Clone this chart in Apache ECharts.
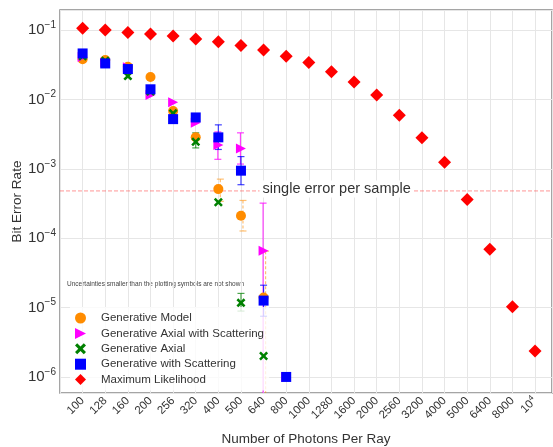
<!DOCTYPE html>
<html lang="en">
<head>
    <meta charset="UTF-8">
    <title>Bit Error Rate vs Photons Per Ray</title>
    <script src="https://cdn.jsdelivr.net/npm/echarts@6.0.0/dist/echarts.min.js"></script>
    <style>
        body, html {
            margin: 0;
            padding: 0;
            width: 100%;
            height: 100%;
            background-color: #fff;
        }
        #chart {
            width: 553px;
            height: 447px;
        }
    </style>
</head>
<body>
    <div id="chart"></div>

    <script>
        // x categories (photons per ray)
        var xLabels = ['100', '128', '160', '200', '256', '320', '400', '500', '640', '800',
            '1000', '1280', '1600', '2000', '2560', '3200', '4000', '5000', '6400', '8000', '10^4'];

        // bit error rates, one value per category (null = not plotted)
        var genModel = [0.038, 0.037, 0.0296, 0.021, 0.0068, 0.00285, 5.1e-4, 2.1e-4, 1.4e-5];
        var genAxialScatter = [0.041, 0.034, 0.029, 0.0116, 0.0091, 0.0046, 0.0022, 0.00197, 6.6e-5, 1.0e-6];
        var genAxial = [0.042, 0.036, 0.0217, 0.013, 0.0063, 0.00245, 3.3e-4, 1.17e-5, 2.0e-6];
        var genScatter = [0.046, 0.033, 0.0274, 0.014, 0.0052, 0.0055, 0.00284, 9.4e-4, 1.26e-5, 1.0e-6];
        var maxLikelihood = [0.106, 0.100, 0.092, 0.0876, 0.082, 0.074, 0.068, 0.060, 0.0515, 0.042,
            0.034, 0.025, 0.0178, 0.0116, 0.0059, 0.0028, 0.00124, 3.6e-4, 6.9e-5, 1.03e-5, 2.37e-6];

        var yMin = 5.87e-7;
        var yMax = 0.1945;

        // error bars: [category index, low, high]; low = 0 means the bar runs down to zero
        var errGenModel = [[6, 3.4e-4, 7.1e-4], [7, 1.27e-4, 3.5e-4], [8, 0, 6.5e-5]];
        var errGenAxialScatter = [[6, 1.37e-3, 3.4e-3], [7, 1.17e-3, 3.3e-3], [8, 0, 3.2e-4]];
        var errGenAxial = [[5, 2.0e-3, 3.3e-3], [7, 8.9e-6, 1.6e-5]];
        var errGenScatter = [[6, 1.9e-3, 4.3e-3], [7, 5.9e-4, 1.5e-3], [8, 7.5e-6, 2.1e-5]];

        var singleErrorLevel = 4.8e-4;

        var chart = echarts.init(document.getElementById('chart'));

        var xMarker = 'path://M2,0 L5,3 L8,0 L10,2 L7,5 L10,8 L8,10 L5,7 L2,10 L0,8 L3,5 L0,2 Z';
        var triRight = 'path://M0,0 L10,5 L0,10 Z';

        function toPoints(arr) {
            var out = [];
            arr.forEach(function (v, i) {
                if (v != null) out.push([i, v]);
            });
            return out;
        }

        function errorSeries(name, data, color, dashed, dx) {
            // zero can't sit on a log axis, so clamp it to the bottom of the plot
            var rows = data.map(function (d) {
                return [d[0], d[1] > 0 ? d[1] : yMin, d[2], d[1] > 0 ? 1 : 0];
            });
            return {
                name: 'err ' + name,
                type: 'custom',
                data: rows,
                z: 1,
                silent: true,
                renderItem: function (params, api) {
                    var top = api.coord([api.value(0), api.value(2)]);
                    var bot = api.coord([api.value(0), api.value(1)]);
                    var x = top[0] + dx;
                    var style = { stroke: color, lineWidth: 1.2, lineDash: dashed ? [3, 2] : null };
                    var kids = [
                        { type: 'line', shape: { x1: x, y1: top[1], x2: x, y2: bot[1] }, style: style },
                        { type: 'line', shape: { x1: x - 3.5, y1: top[1], x2: x + 3.5, y2: top[1] }, style: { stroke: color, lineWidth: 1.2 } }
                    ];
                    if (api.value(3)) {
                        kids.push({ type: 'line', shape: { x1: x - 3.5, y1: bot[1], x2: x + 3.5, y2: bot[1] }, style: { stroke: color, lineWidth: 1.2 } });
                    }
                    return { type: 'group', children: kids };
                }
            };
        }

        function supLabel(base, exp) {
            return '{b|' + base + '}{s|' + exp + '}';
        }

        var option = {
            animation: false,
            grid: {
                left: 60,
                right: 1,
                top: 10,
                bottom: 54,
                outerBoundsMode: 'none',
                containLabel: false,
                show: true,
                borderColor: '#888',
                borderWidth: 1.5
            },
            xAxis: {
                type: 'value',
                min: -1,
                max: 20.75,
                interval: 1,
                name: 'Number of Photons Per Ray',
                nameLocation: 'middle',
                nameGap: 39,
                nameMoveOverlap: false,
                nameTextStyle: { fontFamily: 'Liberation Sans', fontSize: 13.5, color: '#333' },
                axisLine: { show: false },
                axisTick: { show: false },
                splitLine: { lineStyle: { color: '#e6e6e6' } },
                axisLabel: {
                    rotate: 45,
                    margin: 6,
                    showMaxLabel: false,
                    fontFamily: 'Liberation Sans',
                    fontSize: 11.5,
                    color: '#333',
                    formatter: function (v) {
                        if (v < 0 || v > 20 || Math.round(v) !== v) return '';
                        var s = xLabels[v];
                        if (s === '10^4') return supLabel('10', '4');
                        return s;
                    },
                    rich: {
                        b: { fontFamily: 'Liberation Sans', fontSize: 11.5, color: '#333' },
                        s: { fontFamily: 'Liberation Sans', fontSize: 8, color: '#333', verticalAlign: 'bottom', padding: [0, 0, 7, 0] }
                    }
                }
            },
            yAxis: {
                type: 'log',
                logBase: 10,
                min: yMin,
                max: yMax,
                name: 'Bit Error Rate',
                nameLocation: 'middle',
                nameGap: 36,
                nameMoveOverlap: false,
                nameTextStyle: { fontFamily: 'Liberation Sans', fontSize: 13.5, color: '#333' },
                axisLine: { show: false },
                axisTick: { show: false },
                minorTick: { show: false },
                splitLine: { lineStyle: { color: '#e6e6e6' } },
                axisLabel: {
                    showMinLabel: false,
                    showMaxLabel: false,
                    margin: 4,
                    formatter: function (v) {
                        var e = Math.round(Math.log10(v));
                        if (Math.abs(Math.log10(v) - e) > 0.01) return '';
                        return supLabel('10', '\u2212' + (-e));
                    },
                    rich: {
                        b: { fontFamily: 'Liberation Sans', fontSize: 15, color: '#333' },
                        s: { fontFamily: 'Liberation Sans', fontSize: 10, color: '#333', verticalAlign: 'bottom', padding: [0, 0, 10, 0] }
                    }
                }
            },
            legend: {
                orient: 'vertical',
                left: 70,
                top: 307,
                padding: 5,
                itemWidth: 11,
                itemHeight: 11,
                itemGap: 3.4,
                backgroundColor: 'rgba(255,255,255,0.8)',
                textStyle: { fontFamily: 'Liberation Sans', fontSize: 11.5, color: '#333', padding: [0, 0, 0, 10] },
                data: ['Generative Model', 'Generative Axial with Scattering', 'Generative Axial',
                    'Generative with Scattering', 'Maximum Likelihood']
            },
            graphic: [{
                type: 'text',
                left: 67,
                top: 281,
                style: {
                    text: 'Uncertainties smaller than the plotting symbols are not shown',
                    fontFamily: 'Liberation Sans',
                    fontSize: 6.5,
                    fill: '#444'
                }
            }],
            series: [
                {
                    name: 'single error per sample',
                    type: 'line',
                    data: [[-1, singleErrorLevel], [20.75, singleErrorLevel]],
                    symbol: 'none',
                    silent: true,
                    z: 0,
                    lineStyle: { color: 'rgba(255,80,80,0.6)', type: [4, 2], width: 1 },
                    markPoint: {
                        silent: true,
                        symbol: 'circle',
                        symbolSize: 1,
                        itemStyle: { color: 'rgba(0,0,0,0)' },
                        label: {
                            show: true,
                            position: 'right',
                            distance: 0,
                            offset: [0, -2],
                            formatter: 'single error per sample',
                            fontFamily: 'Liberation Sans',
                            fontSize: 14.5,
                            color: '#333',
                            backgroundColor: '#fff',
                            padding: [1, 3, 1, 3]
                        },
                        data: [{ coord: [7.8, singleErrorLevel] }]
                    }
                },
                errorSeries('Generative Model', errGenModel, 'rgba(255,140,0,0.55)', true, 2),
                errorSeries('Generative Axial with Scattering', errGenAxialScatter, 'rgba(255,0,255,0.75)', false, -0.5),
                errorSeries('Generative Axial', errGenAxial, 'rgba(0,128,0,0.7)', false, 0),
                errorSeries('Generative with Scattering', errGenScatter, 'rgba(0,0,255,0.75)', false, 0),
                {
                    name: 'Generative Model',
                    type: 'scatter',
                    symbol: 'circle',
                    symbolSize: 10,
                    itemStyle: { color: '#ff8c00', opacity: 1 },
                    data: toPoints(genModel),
                    z: 2
                },
                {
                    name: 'Generative Axial with Scattering',
                    type: 'scatter',
                    symbol: triRight,
                    symbolSize: 10,
                    itemStyle: { color: '#ff00ff', opacity: 1 },
                    data: toPoints(genAxialScatter),
                    z: 3
                },
                {
                    name: 'Generative Axial',
                    type: 'scatter',
                    symbol: xMarker,
                    symbolSize: 9,
                    itemStyle: { color: '#008000', opacity: 1 },
                    data: toPoints(genAxial),
                    z: 4
                },
                {
                    name: 'Generative with Scattering',
                    type: 'scatter',
                    symbol: 'rect',
                    symbolSize: 10,
                    itemStyle: { color: '#0000ff', opacity: 1 },
                    data: toPoints(genScatter),
                    z: 5
                },
                {
                    name: 'Maximum Likelihood',
                    type: 'scatter',
                    symbol: 'diamond',
                    symbolSize: 13,
                    itemStyle: { color: '#ff0000', opacity: 1 },
                    data: toPoints(maxLikelihood),
                    z: 6
                }
            ]
        };

        chart.setOption(option);
    </script>
</body>
</html>
